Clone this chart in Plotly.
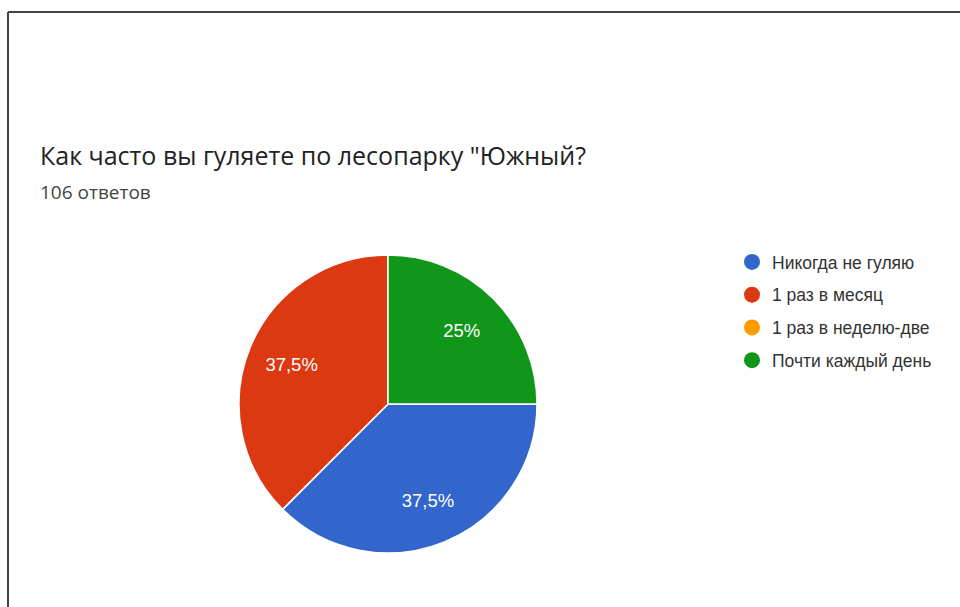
import plotly.graph_objects as go

title = 'Как часто вы гуляете по лесопарку "Южный?'
subtitle = "106 ответов"
labels = ["Никогда не гуляю", "1 раз в месяц", "1 раз в неделю-две", "Почти каждый день"]
values = [37.5, 37.5, 0, 25]
colors = ["#3366cc", "#dc3912", "#ff9900", "#109618"]

texts = [(f"{v:g}%".replace(".", ",") if v > 0 else "") for v in values]
pie_domain = dict(x=[239/960, 537/960], y=[1-553/607, 1-255/607])

fig = go.Figure()
# filled pie
fig.add_trace(go.Pie(
    labels=labels, values=values, sort=False, direction="clockwise", rotation=90,
    marker=dict(colors=colors, line=dict(color="white", width=1.5)),
    textinfo="none", showlegend=False, hoverinfo="label+percent",
    domain=pie_domain,
))
# transparent ring used only to place the percentage labels further out
fig.add_trace(go.Pie(
    labels=labels, values=values, sort=False, direction="clockwise", rotation=90,
    hole=0.4,
    marker=dict(colors=["rgba(0,0,0,0)"] * len(values), line=dict(width=0)),
    text=texts, textinfo="text", textposition="inside",
    insidetextfont=dict(color="white", size=18.5, family="Liberation Sans, Arial"),
    showlegend=False, hoverinfo="skip",
    domain=pie_domain,
))

# legend entries (circle markers)
for i, (lab, col) in enumerate(zip(labels, colors)):
    fig.add_trace(go.Scatter(x=[None], y=[None], mode="markers", name=lab,
                             legendgroup=f"g{i}",
                             marker=dict(symbol="circle", size=16, color=col)))

fig.update_layout(
    width=960, height=607, margin=dict(l=0, r=0, t=0, b=0),
    paper_bgcolor="white", plot_bgcolor="white",
    xaxis=dict(visible=False), yaxis=dict(visible=False),
    legend=dict(x=732/960, y=1-244/607, xanchor="left", yanchor="top",
                font=dict(size=17.5, color="#333333", family="Liberation Sans, Arial"),
                itemsizing="trace", tracegroupgap=7, bgcolor="rgba(0,0,0,0)"),
    shapes=[
        dict(type="line", xref="paper", yref="paper", x0=8/960, x1=1, y0=1-12/607, y1=1-12/607,
             line=dict(color="#444444", width=2)),
        dict(type="line", xref="paper", yref="paper", x0=8/960, x1=8/960, y0=1-12/607, y1=0,
             line=dict(color="#444444", width=2)),
    ],
    annotations=[
        dict(text=title, xref="paper", yref="paper", x=38/960, y=1-155/607, xanchor="left",
             yanchor="middle", showarrow=False,
             font=dict(size=25, color="#222222", family="Open Sans, Liberation Sans")),
        dict(text=subtitle, xref="paper", yref="paper", x=38/960, y=1-192/607, xanchor="left",
             yanchor="middle", showarrow=False,
             font=dict(size=19, color="#444444", family="Open Sans, Liberation Sans")),
    ],
)

fig.write_html("out.html")
